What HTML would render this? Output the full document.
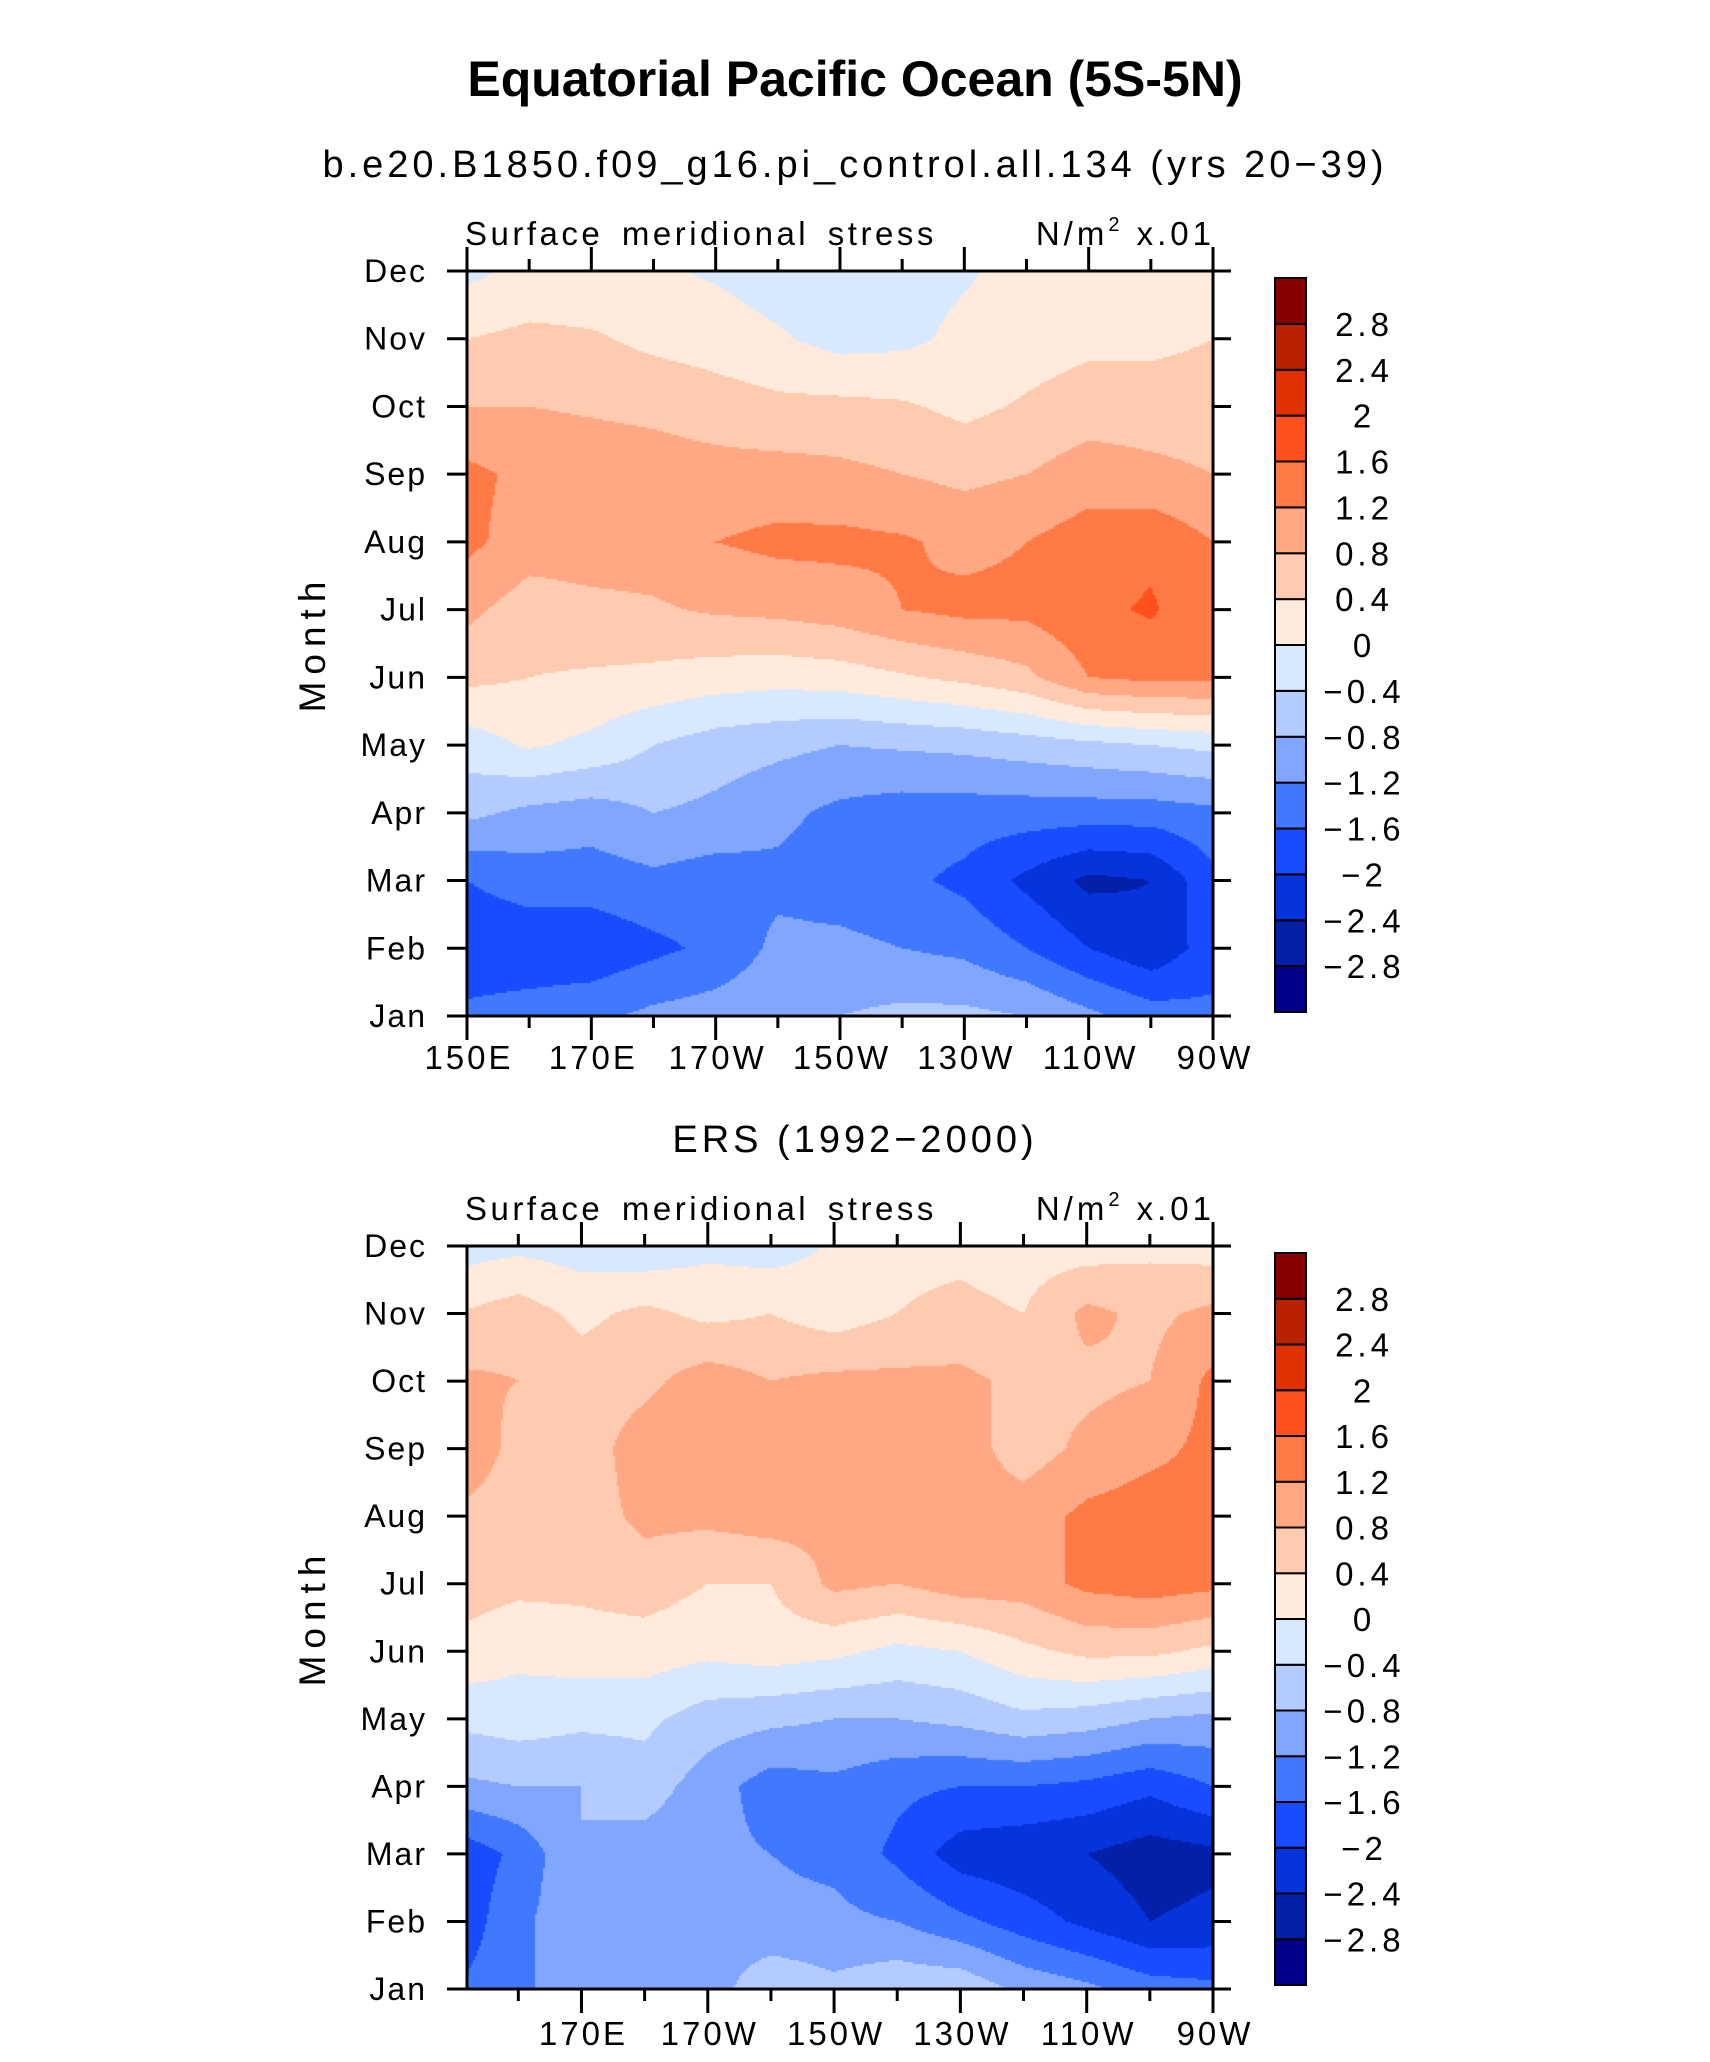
<!DOCTYPE html>
<html><head><meta charset="utf-8">
<style>
html,body{margin:0;padding:0;background:#fff;}
#root{position:relative;width:1710px;height:2062px;overflow:hidden;font-family:"Liberation Sans",sans-serif;}
canvas{position:absolute;}
svg{position:absolute;left:0;top:0;}
</style></head>
<body>
<div id="root">
<canvas id="c1" width="746" height="745" style="left:467px;top:271px"></canvas>
<canvas id="c2" width="746" height="743" style="left:467px;top:1246px"></canvas>
<svg id="ov" width="1710" height="2062">
<text x="855" y="96" text-anchor="middle" font-size="50" font-weight="bold">Equatorial Pacific Ocean (5S-5N)</text>
<text x="855" y="177" text-anchor="middle" font-size="38" letter-spacing="4">b.e20.B1850.f09_g16.pi_control.all.134 (yrs 20−39)</text>
<text x="855" y="1152" text-anchor="middle" font-size="38" letter-spacing="4">ERS (1992−2000)</text>
</svg>
</div>
<script>
const months=["Jan","Feb","Mar","Apr","May","Jun","Jul","Aug","Sep","Oct","Nov","Dec"];
const lons=[150,160,170,180,190,200,210,220,230,240,250,260,270];
const levels=[-2.8,-2.4,-2,-1.6,-1.2,-0.8,-0.4,0,0.4,0.8,1.2,1.6,2,2.4,2.8];
const levelLabels=["−2.8","−2.4","−2","−1.6","−1.2","−0.8","−0.4","0","0.4","0.8","1.2","1.6","2","2.4","2.8"];
const colors=["#03008a","#0320a8","#0534dc","#1a4cff","#4078ff","#80a6ff","#b3cbff","#d7e8ff","#ffeadb","#ffcbb0","#ffa883","#ff7a45","#ff501e","#e03200","#b82200","#880000"];
const topTickLabels=["150E","170E","170W","150W","130W","110W","90W"];
const botTickLabels=["170E","170W","150W","130W","110W","90W"];
// model values: rows Jan..Dec, cols 150E..90W
const modelJan=[-1.5,-1.4,-1.3,-1.1,-1.0,-0.9,-0.8,-0.7,-0.7,-0.8,-1.1,-1.4,-1.5];
const modelFeb=[-1.9,-1.9,-1.9,-1.7,-1.5,-1.1,-1.1,-1.2,-1.3,-1.6,-2.0,-2.3,-1.8];
const modelMar=[-1.6,-1.4,-1.4,-1.3,-1.4,-1.3,-1.4,-1.5,-1.7,-2.1,-2.5,-2.4,-1.7];
const modelApr=[-0.7,-0.9,-1.0,-0.8,-0.9,-1.1,-1.3,-1.4,-1.4,-1.4,-1.4,-1.4,-1.3];
const modelMay=[-0.2,0.05,-0.1,-0.4,-0.6,-0.7,-0.8,-0.75,-0.7,-0.6,-0.5,-0.4,-0.3];
const modelJun=[0.5,0.4,0.35,0.3,0.2,0.15,0.2,0.35,0.5,0.7,1.2,1.3,1.3];
const modelJul=[0.9,0.6,0.7,0.75,0.85,0.9,1.0,1.2,1.3,1.3,1.5,1.65,1.3];
const modelAug=[1.3,1.0,1.0,1.0,1.2,1.3,1.3,1.25,1.1,1.2,1.4,1.5,1.2];
const modelSep=[1.3,1.1,1.05,1.0,0.95,0.95,0.9,0.8,0.7,0.8,1.0,0.9,0.8];
const modelOct=[0.8,0.8,0.75,0.7,0.6,0.5,0.5,0.45,0.3,0.45,0.6,0.6,0.6];
const modelNov=[0.4,0.5,0.45,0.3,0.2,0.05,-0.15,-0.1,0.1,0.2,0.3,0.3,0.4];
const modelDec=[-0.1,0.1,0.1,0.05,-0.05,-0.2,-0.2,-0.15,-0.05,0.15,0.1,0.0,0.1];
const ersJan=[-1.6,-1.3,-0.9,-0.8,-1.0,-0.5,-0.7,-0.5,-0.5,-0.9,-1.1,-1.4,-1.5];
const ersFeb=[-1.9,-1.3,-0.9,-1.1,-1.0,-1.1,-1.1,-1.2,-1.5,-1.8,-2.1,-2.4,-2.3];
const ersMar=[-1.9,-1.5,-0.8,-1.0,-1.1,-1.2,-1.3,-1.7,-2.2,-2.3,-2.4,-2.6,-2.5];
const ersApr=[-0.9,-0.8,-0.8,-0.6,-1.0,-1.4,-1.3,-1.5,-1.6,-1.6,-1.7,-1.9,-1.6];
const ersMay=[-0.3,-0.2,-0.3,-0.3,-0.6,-0.7,-0.8,-0.8,-0.7,-0.5,-0.6,-0.8,-0.9];
const ersJun=[0.3,0.1,0.2,0.2,0.1,0.2,0.1,-0.1,0.0,0.3,0.5,0.5,0.3];
const ersJul=[0.6,0.5,0.5,0.6,0.4,0.4,0.9,0.8,1.0,1.0,1.3,1.4,1.3];
const ersAug=[0.7,0.5,0.6,0.9,0.9,1.0,0.9,1.0,1.0,1.0,1.3,1.4,1.3];
const ersSep=[1.3,0.6,0.6,1.0,1.1,0.9,1.0,1.0,1.0,0.6,0.9,1.1,1.3];
const ersOct=[0.9,0.8,0.6,0.7,1.0,0.8,0.9,0.9,0.9,0.7,0.7,0.8,1.3];
const ersNov=[0.4,0.6,0.3,0.5,0.3,0.4,0.2,0.4,0.5,0.4,0.9,0.7,0.9];
const ersDec=[-0.2,-0.1,-0.2,-0.3,-0.1,-0.2,0.05,0.3,0.3,0.2,0.2,0.3,0.2];
const modelData=[modelJan,modelFeb,modelMar,modelApr,modelMay,modelJun,modelJul,modelAug,modelSep,modelOct,modelNov,modelDec];
const ersData=[ersJan,ersFeb,ersMar,ersApr,ersMay,ersJun,ersJul,ersAug,ersSep,ersOct,ersNov,ersDec];

const NS="http://www.w3.org/2000/svg";
const ov=document.getElementById('ov');
function el(tag,attrs,txt){const e=document.createElementNS(NS,tag);for(const k in attrs)e.setAttribute(k,attrs[k]);if(txt!==undefined)e.textContent=txt;ov.appendChild(e);return e;}
function colorFor(v){let i=0;while(i<levels.length&&v>=levels[i])i++;return colors[i];}
function sample(data,lon,m){
  let fx=(lon-lons[0])/10;fx=Math.max(0,Math.min(lons.length-1.0001,fx));
  let fy=Math.max(0,Math.min(10.9999,m));
  const i=Math.floor(fx),j=Math.floor(fy),tx=fx-i,ty=fy-j;
  const a=data[j][i],b=data[j][i+1],c=data[j+1][i],d=data[j+1][i+1];
  return (a*(1-tx)+b*tx)*(1-ty)+(c*(1-tx)+d*tx)*ty;
}
function drawPanel(cid,data,x0,y0,w,h,lonMin,lonMax,tickLons,tickLabels,labelY,pfx){
  const cv=document.getElementById(cid),ctx=cv.getContext('2d');
  const xs=lon=>x0+(lon-lonMin)/(lonMax-lonMin)*w;
  const ys=m=>y0+h-m/11*h;
  for(let py=0;py<h;py+=2){for(let px=0;px<w;px+=2){
    const lon=lonMin+(px+1)/w*(lonMax-lonMin),m=(h-py-1)/h*11;
    ctx.fillStyle=colorFor(sample(data,lon,m));ctx.fillRect(px,py,2,2);}}
  const fr=el('rect',{x:x0,y:y0,width:w,height:h,fill:'none',stroke:'#000','stroke-width':3});
  
  months.forEach((mn,k)=>{const y=ys(k);
    el('line',{x1:x0-20,y1:y,x2:x0,y2:y,stroke:'#000','stroke-width':3});
    el('line',{x1:x0+w,y1:y,x2:x0+w+18,y2:y,stroke:'#000','stroke-width':3});
    const t=el('text',{x:x0-40,y:y+11,'text-anchor':'end','font-size':32,'letter-spacing':2},mn);
    });
  for(let lon=150;lon<=270;lon+=10){if(lon<lonMin-0.01)continue;const x=xs(lon),maj=(lon-150)%20===0;const L=maj?24:12;
    el('line',{x1:x,y1:y0,x2:x,y2:y0-L,stroke:'#000','stroke-width':3});
    el('line',{x1:x,y1:y0+h,x2:x,y2:y0+h+L,stroke:'#000','stroke-width':3});}
  tickLons.forEach((lon,k)=>{const t=el('text',{x:xs(lon)+2,y:labelY,'text-anchor':'middle','font-size':33,'letter-spacing':3},tickLabels[k]);
    });
  const ml=el('text',{x:0,y:0,'text-anchor':'middle','font-size':37,'letter-spacing':7,transform:`translate(${x0-142},${y0+h/2}) rotate(-90)`},'Month');
  
  const s=el('text',{x:x0-2,y:y0-26,'font-size':33,'letter-spacing':3.5,'word-spacing':6},'Surface meridional stress');
  
  const u=el('text',{x:x0+w+2,y:y0-26,'font-size':33,'text-anchor':'end','letter-spacing':4});
  
  u.innerHTML='N/m<tspan dy="-14" font-size="20">2</tspan><tspan dy="14">  x.01</tspan>';
  u.setAttribute('xml:space','preserve');
  const cbx=1275,cbw=31,cby=y0+7,cbh=h-11,bh=cbh/colors.length;
  colors.forEach((c,k)=>{const r=el('rect',{x:cbx,y:cby+cbh-(k+1)*bh,width:cbw,height:bh,fill:c,stroke:'#000','stroke-width':2});
    });
  levels.forEach((v,k)=>{const t=el('text',{x:1364,y:cby+cbh-(k+1)*bh+12,'text-anchor':'middle','font-size':33,'letter-spacing':4},levelLabels[k]);
    });
}
drawPanel('c1',modelData,467,271,746,745,150,270,[150,170,190,210,230,250,270],topTickLabels,1069,'model');
drawPanel('c2',ersData,467,1246,746,743,151.875,270,[170,190,210,230,250,270],botTickLabels,2045,'ers');
</script>
</body></html>
